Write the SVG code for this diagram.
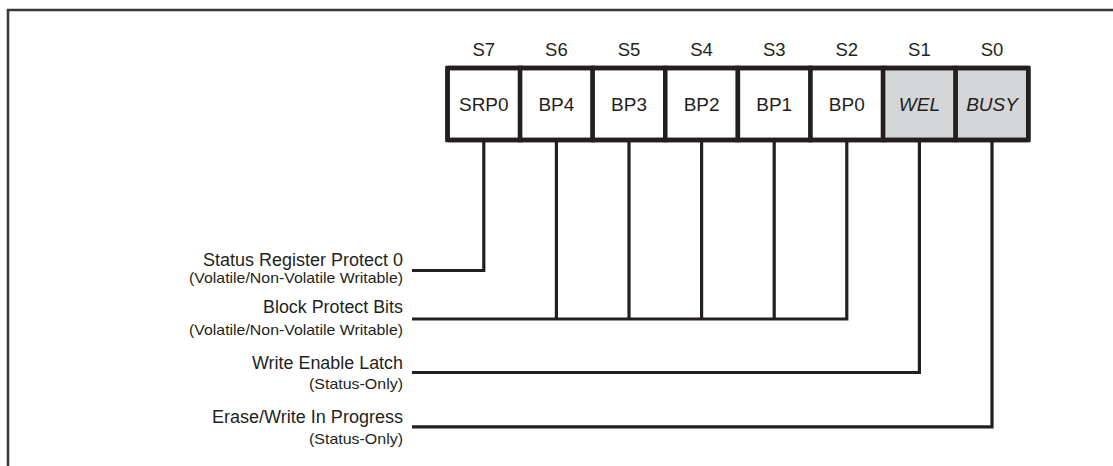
<svg xmlns="http://www.w3.org/2000/svg" width="1113" height="466" viewBox="0 0 1113 466">
<style>
text{font-family:"Liberation Sans",Arial,sans-serif;fill:#231f20}
.bit{font-size:18.5px;text-anchor:middle}
.cell{fill:#fff;stroke:#231f20;stroke-width:4.5}
.gray{fill:#d5d6d7}
.cl{font-size:19px;text-anchor:middle}
.it{font-style:italic}
.lab{font-size:17.5px;text-anchor:end}
.sub{font-size:14.5px;text-anchor:end}
.wire{fill:none;stroke:#231f20;stroke-width:3.2;stroke-linejoin:miter}
.frame{fill:none;stroke:#3a3a3a;stroke-width:2.6}
</style>
<path class="frame" d="M8 466 V10 H1113"/>
<g id="bit-labels">
<text class="bit" x="483.8" y="56">S7</text>
<text class="bit" x="556.4" y="56">S6</text>
<text class="bit" x="629" y="56">S5</text>
<text class="bit" x="701.6" y="56">S4</text>
<text class="bit" x="774.2" y="56">S3</text>
<text class="bit" x="846.8" y="56">S2</text>
<text class="bit" x="919.4" y="56">S1</text>
<text class="bit" x="992" y="56">S0</text>
</g>
<g id="connectors">
<path class="wire" d="M483.8 142 V270.5 H412"/>
<path class="wire" d="M556.4 142 V319 M629 142 V319 M701.6 142 V319 M774.2 142 V319 M846.8 142 V319 H412"/>
<path class="wire" d="M919.4 142 V372.5 H412"/>
<path class="wire" d="M992 142 V426.8 H412"/>
</g>
<g id="cell-srp0"><rect class="cell" x="447.5" y="68" width="72.6" height="72"/><text class="cl" x="483.8" y="110.5">SRP0</text></g>
<g id="cell-bp4"><rect class="cell" x="520.1" y="68" width="72.6" height="72"/><text class="cl" x="556.4" y="110.5">BP4</text></g>
<g id="cell-bp3"><rect class="cell" x="592.7" y="68" width="72.6" height="72"/><text class="cl" x="629" y="110.5">BP3</text></g>
<g id="cell-bp2"><rect class="cell" x="665.3" y="68" width="72.6" height="72"/><text class="cl" x="701.6" y="110.5">BP2</text></g>
<g id="cell-bp1"><rect class="cell" x="737.9" y="68" width="72.6" height="72"/><text class="cl" x="774.2" y="110.5">BP1</text></g>
<g id="cell-bp0"><rect class="cell" x="810.5" y="68" width="72.6" height="72"/><text class="cl" x="846.8" y="110.5">BP0</text></g>
<g id="cell-wel"><rect class="cell gray" x="883.1" y="68" width="72.6" height="72"/><text class="cl it" x="919.4" y="110.5">WEL</text></g>
<g id="cell-busy"><rect class="cell gray" x="955.7" y="68" width="72.6" height="72"/><text class="cl it" x="992" y="110.5">BUSY</text></g>
<rect x="447.5" y="68" width="580.8" height="72" fill="none" stroke="#231f20" stroke-width="4.5" rx="1.5"/>
<g id="label-srp0">
<text class="lab" x="403" y="266" textLength="200" lengthAdjust="spacingAndGlyphs">Status Register Protect 0</text>
<text class="sub" x="403" y="283" textLength="214" lengthAdjust="spacingAndGlyphs">(Volatile/Non-Volatile Writable)</text>
</g>
<g id="label-bp">
<text class="lab" x="403" y="313" textLength="140" lengthAdjust="spacingAndGlyphs">Block Protect Bits</text>
<text class="sub" x="403" y="335" textLength="214" lengthAdjust="spacingAndGlyphs">(Volatile/Non-Volatile Writable)</text>
</g>
<g id="label-wel">
<text class="lab" x="403" y="369" textLength="151" lengthAdjust="spacingAndGlyphs">Write Enable Latch</text>
<text class="sub" x="403" y="389" textLength="94" lengthAdjust="spacingAndGlyphs">(Status-Only)</text>
</g>
<g id="label-busy">
<text class="lab" x="403" y="423" textLength="191" lengthAdjust="spacingAndGlyphs">Erase/Write In Progress</text>
<text class="sub" x="403" y="444" textLength="94" lengthAdjust="spacingAndGlyphs">(Status-Only)</text>
</g>
</svg>
